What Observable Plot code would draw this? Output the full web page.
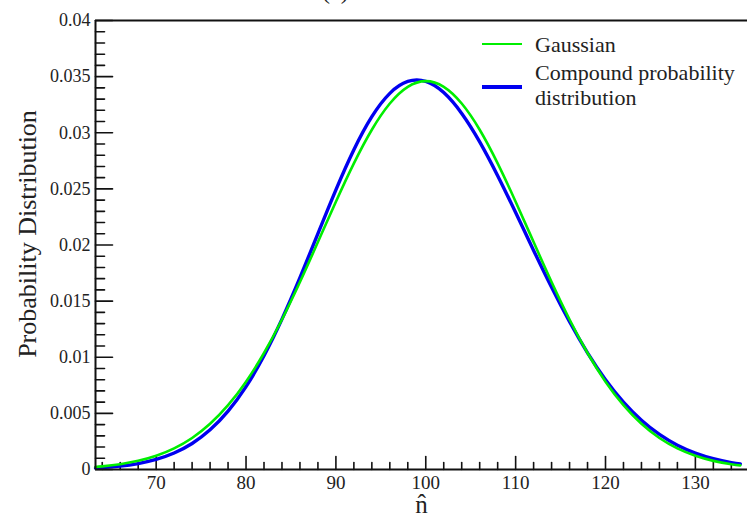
<!DOCTYPE html>
<html>
<head>
<meta charset="utf-8">
<script src="https://cdn.jsdelivr.net/npm/d3@7"></script>
<script src="https://cdn.jsdelivr.net/npm/@observablehq/plot@0.6"></script>
<style>
  html, body { margin: 0; padding: 0; background: #fff; }
  #chart { position: relative; width: 747px; height: 521px; overflow: hidden; }
</style>
</head>
<body>
<div id="chart"></div>
<script>
// n-hat values
const nValues = [63.25, 64, 66, 68, 70, 72, 74, 76, 78, 80, 82, 84, 86, 88, 90, 92, 94, 96, 98, 100,
  102, 104, 106, 108, 110, 112, 114, 116, 118, 120, 122, 124, 126, 128, 130, 132, 134, 135];
// Gaussian (green)
const gaussian = [0.000229, 0.000280, 0.000472, 0.000770, 0.001221, 0.001879, 0.002806, 0.004070, 0.005727, 0.007826,
  0.010380, 0.013363, 0.016701, 0.020262, 0.023860, 0.027275, 0.030268, 0.032604, 0.034090, 0.034600,
  0.034090, 0.032604, 0.030268, 0.027275, 0.023860, 0.020262, 0.016701, 0.013363, 0.010380, 0.007826,
  0.005727, 0.004070, 0.002806, 0.001879, 0.001221, 0.000770, 0.000472, 0.000365];
// Compound probability distribution (blue)
const compound = [0.000132, 0.000167, 0.000302, 0.000530, 0.000896, 0.001466, 0.002315, 0.003532, 0.005198, 0.007387,
  0.010129, 0.013398, 0.017083, 0.021011, 0.024911, 0.028485, 0.031431, 0.033510, 0.034568, 0.034571,
  0.033576, 0.031719, 0.029186, 0.026174, 0.022888, 0.019519, 0.016229, 0.013158, 0.010396, 0.008005,
  0.006007, 0.004390, 0.003126, 0.002168, 0.001464, 0.000963, 0.000617, 0.000489];

const xMajor = [70, 80, 90, 100, 110, 120, 130];
const xMinor = [64, 66, 68, 72, 74, 76, 78, 82, 84, 86, 88, 92, 94, 96, 98, 102, 104, 106, 108,
  112, 114, 116, 118, 122, 124, 126, 128, 132, 134];
const yMajor = [0, 0.005, 0.01, 0.015, 0.02, 0.025, 0.03, 0.035, 0.04];
const yMinor = [0.001, 0.002, 0.003, 0.004, 0.006, 0.007, 0.008, 0.009, 0.011, 0.012, 0.013, 0.014,
  0.016, 0.017, 0.018, 0.019, 0.021, 0.022, 0.023, 0.024, 0.026, 0.027, 0.028, 0.029,
  0.031, 0.032, 0.033, 0.034, 0.036, 0.037, 0.038, 0.039];
const xDomain = [63.25, 135.8];
const yDomain = [0, 0.04];

const legendLines = ["Gaussian", "Compound probability", "distribution"];
const gData = nValues.map((n, i) => ({n, p: gaussian[i]}));
const cData = nValues.map((n, i) => ({n, p: compound[i]}));

const FONT = "'Liberation Serif', 'DejaVu Serif', serif";
const lineShape = {draw(ctx, l) { ctx.moveTo(0, 0); ctx.lineTo(0, -l); }};

const plot = Plot.plot({
  width: 747,
  height: 521,
  marginLeft: 95,
  marginRight: 0,
  marginTop: 20,
  marginBottom: 52,
  style: {fontFamily: FONT, color: "#222", background: "white", overflow: "visible"},
  x: {domain: xDomain},
  y: {domain: yDomain},
  marks: [
    Plot.axisX({ticks: xMajor, tickSize: 0, tickPadding: 6, fontSize: 19, tickFormat: d => String(d), label: null}),
    Plot.axisY({ticks: yMajor, tickSize: 0, tickPadding: 5, fontSize: 18, tickFormat: d => String(+d.toFixed(3)), label: null}),
    // ticks pointing inward
    Plot.vector(xMajor, {x: d => d, y: 0, length: 13, rotate: 0, anchor: "start", shape: lineShape, stroke: "#111", strokeWidth: 1.6}),
    Plot.vector(xMinor, {x: d => d, y: 0, length: 7, rotate: 0, anchor: "start", shape: lineShape, stroke: "#111", strokeWidth: 1.6}),
    Plot.vector(yMajor, {x: xDomain[0], y: d => d, length: 17, rotate: 90, anchor: "start", shape: lineShape, stroke: "#111", strokeWidth: 1.6}),
    Plot.vector(yMinor, {x: xDomain[0], y: d => d, length: 9, rotate: 90, anchor: "start", shape: lineShape, stroke: "#111", strokeWidth: 1.6}),
    Plot.line(cData, {x: "n", y: "p", stroke: "#0000f0", strokeWidth: 3.4, curve: "natural"}),
    Plot.line(gData, {x: "n", y: "p", stroke: "#00ee00", strokeWidth: 2.6, curve: "natural"}),
    Plot.ruleY([yDomain[0], yDomain[1]], {stroke: "#111", strokeWidth: 2}),
    Plot.ruleX([xDomain[0]], {stroke: "#111", strokeWidth: 2}),
    Plot.text(["Probability Distribution"], {frameAnchor: "left", textAnchor: "middle", rotate: -90, dx: -68, dy: -11, fontSize: 26, fill: "#222", fontFamily: FONT}),
    Plot.text(["n\u0302"], {frameAnchor: "bottom", dy: 43, fontSize: 25, fill: "#222", fontFamily: FONT})
  ]
});
document.getElementById("chart").appendChild(plot);

// legend and clipped title
const svg = d3.select(plot);
const leg = svg.append("g").attr("font-family", FONT).attr("font-size", 22).attr("fill", "#222").attr("text-anchor", "start");
leg.append("line").attr("x1", 482).attr("x2", 522).attr("y1", 44).attr("y2", 44).attr("stroke", "#00ee00").attr("stroke-width", 2);
leg.append("text").attr("x", 535).attr("y", 52).text(legendLines[0]);
leg.append("line").attr("x1", 482).attr("x2", 522).attr("y1", 87).attr("y2", 87).attr("stroke", "#0000f0").attr("stroke-width", 4);
leg.append("text").attr("x", 535).attr("y", 80).text(legendLines[1]);
leg.append("text").attr("x", 535).attr("y", 105).text(legendLines[2]);
svg.append("text").attr("x", 322).attr("y", -1).attr("text-anchor", "start").attr("font-family", FONT).attr("font-size", 24).attr("fill", "#222").text("(a)");
</script>
</body>
</html>
